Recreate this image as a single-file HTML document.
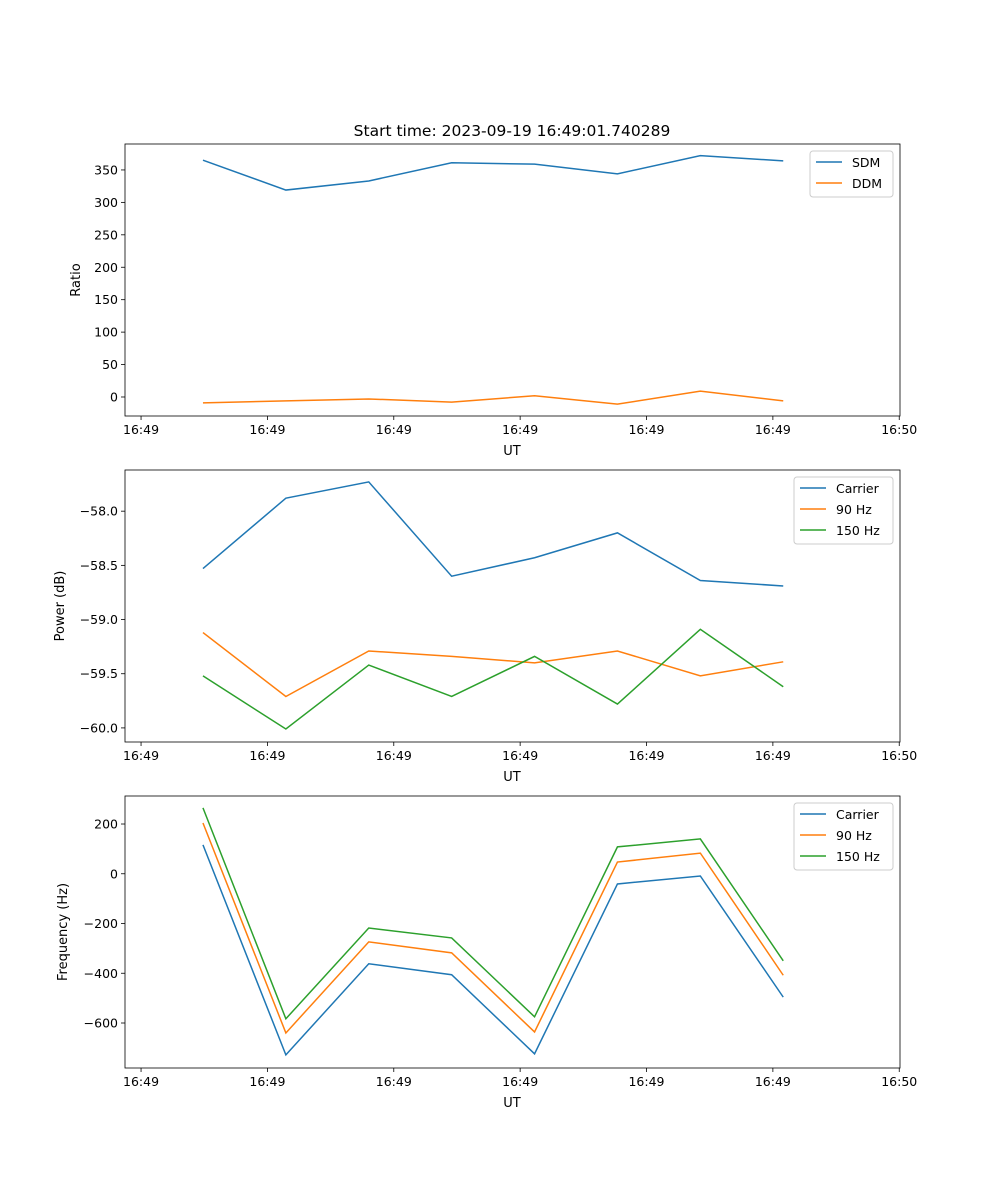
<!DOCTYPE html>
<html><head><meta charset="utf-8"><style>
body{margin:0;background:#fff}
svg{display:block;font-family:"DejaVu Sans","Liberation Sans",sans-serif}
</style></head><body>
<svg id="fig" width="1000" height="1200"></svg>
<script>
const times = [4.9, 11.46, 18.02, 24.58, 31.14, 37.7, 44.26, 50.82];
const xTickVals = [0, 10, 20, 30, 40, 50, 60];
const xTickLabels = ["16:49","16:49","16:49","16:49","16:49","16:49","16:50"];
const sdm = [365, 319, 333, 361, 359, 344, 372, 364];
const ddm = [-9, -6, -3, -8, 2, -11, 9, -6];
const pCarrier = [-58.53, -57.88, -57.73, -58.60, -58.43, -58.20, -58.64, -58.69];
const p90 = [-59.12, -59.71, -59.29, -59.34, -59.40, -59.29, -59.52, -59.39];
const p150 = [-59.52, -60.01, -59.42, -59.71, -59.34, -59.78, -59.09, -59.62];
const fCarrier = [116, -728, -362, -406, -724, -41, -9, -496];
const f90 = [204, -640, -274, -318, -636, 47, 83, -408];
const f150 = [265, -583, -218, -258, -575, 108, 140, -350];
const ratioTicks = [0,50,100,150,200,250,300,350];
const powerTicks = [-60,-59.5,-59,-58.5,-58];
const freqTicks = [-600,-400,-200,0,200];

const NS="http://www.w3.org/2000/svg";
const svg=document.getElementById('fig');
function mk(tag,attrs,parent){const e=document.createElementNS(NS,tag);for(const k in attrs)e.setAttribute(k,attrs[k]);(parent||svg).appendChild(e);return e;}
const X0=125,X1=900,XMIN=-1.27,XMAX=60.06;
const xs=t=>X0+(t-XMIN)/(XMAX-XMIN)*(X1-X0);

function panel(name,top,ymin,ymax,yticks,fmt,ylabel,series,legW){
  const bot=top+272;
  const g=mk('g',{});
  
  
  const ys=v=>bot-(v-ymin)/(ymax-ymin)*272;
  xTickVals.forEach((v,i)=>{
    const x=xs(v);
    mk('line',{x1:x,x2:x,y1:bot,y2:bot+4,stroke:'#000','stroke-width':0.8},g);
    const t=mk('text',{x:x,y:bot+18,'font-size':12.5,'text-anchor':'middle'},g);
    t.textContent=xTickLabels[i];
    
    
  });
  yticks.forEach(v=>{
    const y=ys(v);
    mk('line',{x1:X0-4,x2:X0,y1:y,y2:y,stroke:'#000','stroke-width':0.8},g);
    const t=mk('text',{x:X0-7,y:y+4.5,'font-size':12.5,'text-anchor':'end'},g);
    t.textContent=fmt(v);
    
    
  });
  const xl=mk('text',{x:512,y:bot+39,'font-size':13,'text-anchor':'middle'},g);
  xl.textContent='UT';
  
  
  const yl=mk('text',{x:0,y:0,'font-size':13,'text-anchor':'middle',transform:`translate(${name==='ratio'?80:name==='power'?64:67},${top+136}) rotate(-90)`},g);
  yl.textContent=ylabel;
  
  
  series.forEach(s=>{
    const p=mk('polyline',{points:s.vals.map((v,i)=>xs(times[i])+','+ys(v)).join(' '),fill:'none',stroke:s.color,'stroke-width':1.5},g);
    
    
  });
  mk('rect',{x:X0,y:top,width:X1-X0,height:272,fill:'none',stroke:'#000','stroke-width':0.8},g);
  const lx=X1-7-legW, ly=top+7;
  const lg=mk('g',{},g);
  
  
  mk('rect',{x:lx,y:ly,width:legW,height:4+series.length*21,fill:'#fff',stroke:'#ccc',rx:3},lg);
  series.forEach((s,i)=>{
    const yy=ly+11+i*21;
    mk('line',{x1:lx+6,x2:lx+32,y1:yy,y2:yy,stroke:s.color,'stroke-width':1.5},lg);
    const t=mk('text',{x:lx+42,y:yy+5,'font-size':12.5},lg);
    t.textContent=s.label;
    
    
  });
}
const B='#1f77b4',O='#ff7f0e',G='#2ca02c';
const title=mk('text',{x:512,y:136,'font-size':15.5,'text-anchor':'middle'});
title.textContent='Start time: 2023-09-19 16:49:01.740289';


panel('ratio',144,-29.3,390,ratioTicks,v=>String(v),'Ratio',[{label:'SDM',vals:sdm,color:B},{label:'DDM',vals:ddm,color:O}],83);
panel('power',470,-60.13,-57.62,powerTicks,v=>(v<0?'\u2212':'')+Math.abs(v).toFixed(1),'Power (dB)',[{label:'Carrier',vals:pCarrier,color:B},{label:'90 Hz',vals:p90,color:O},{label:'150 Hz',vals:p150,color:G}],99);
panel('frequency',796,-780.9,312.6,freqTicks,v=>(v<0?'\u2212':'')+Math.abs(v),'Frequency (Hz)',[{label:'Carrier',vals:fCarrier,color:B},{label:'90 Hz',vals:f90,color:O},{label:'150 Hz',vals:f150,color:G}],99);
</script>
</body></html>
